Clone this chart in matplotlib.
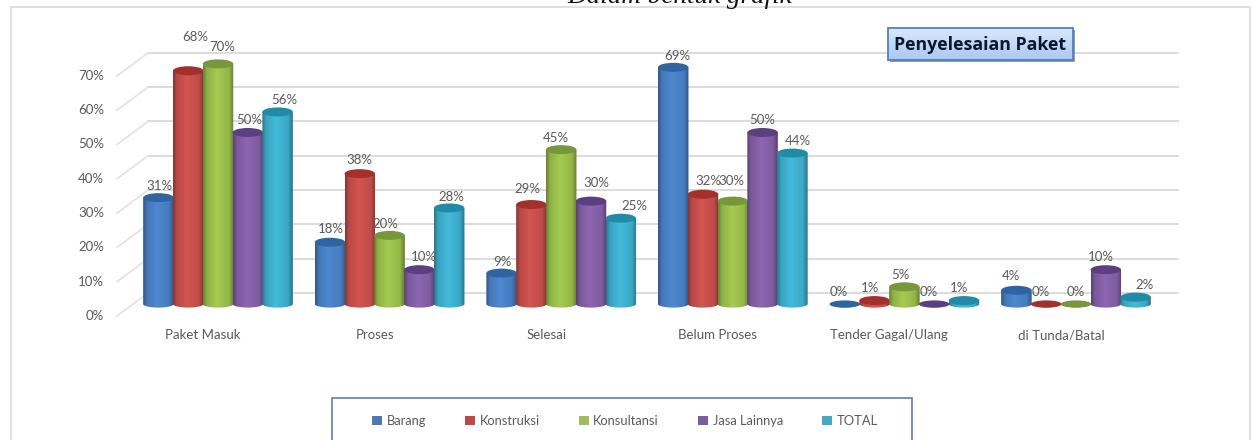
import numpy as np
import matplotlib
matplotlib.use("Agg")
import matplotlib.pyplot as plt
from matplotlib.colors import to_rgb
from matplotlib.patches import Ellipse, PathPatch, Rectangle
from matplotlib.path import Path

# data
categories = ["Paket Masuk", "Proses", "Selesai", "Belum Proses", "Tender Gagal/Ulang", "di Tunda/Batal"]
series_names = ["Barang", "Konstruksi", "Konsultansi", "Jasa Lainnya", "TOTAL"]
barang = [31, 18, 9, 69, 0, 4]
konstruksi = [68, 38, 29, 32, 1, 0]
konsultansi = [70, 20, 45, 30, 5, 0]
jasa_lainnya = [50, 10, 30, 50, 0, 10]
total = [56, 28, 25, 44, 1, 2]
y_ticks = [0, 10, 20, 30, 40, 50, 60, 70]

# styles
body_colors = ["#4a81c6", "#c8504c", "#9bc04c", "#8560a8", "#3fb0cf"]
top_colors = ["#2f659f", "#a4302e", "#76983a", "#5c3f80", "#1f8ba8"]
legend_colors = ["#4f76b5", "#c0464a", "#a3bb5f", "#77609f", "#44a8c4"]
text_color = "#595959"

# nudges of the value labels in pixels, one row per series
label_dx = [[1, 1, 1, 4, -6, -5], [7, 0, -4, 5, -5, -5], [4, -4, -5, -1, -4, 0], [1, 4, 5, 0, -5, -5], [7, 2, 14, 5, -5, 9]]
label_dy = [[-12, -13, -11, -11, -12, -14], [-34, -14, -16, -13, -13, -12], [-17, -11, -12, -20, -12, -12],
            [-12, -13, -18, -13, -12, -13], [-12, -11, -12, -12, -13, -12]]

# layout in pixels of the 1257x440 picture
W, H = 1257, 440
X0, X_STEP, BAR_W = 218, 171.6, 30.5
Y0, Y_STEP = 304, 3.43
RY = 4.5

plt.rcParams["font.family"] = ["Lato", "DejaVu Sans"]

fig = plt.figure(figsize=(W / 100, H / 100), dpi=100, facecolor="white")
ax = fig.add_axes([0, 0, 1, 1])
ax.axis("off")

width = BAR_W / X_STEP
spacing = 29.8 / X_STEP
ry = RY / Y_STEP
back = 11 / Y_STEP
front = 12 / Y_STEP
wall_l, wall_r, tick_x = (148 - X0) / X_STEP, (1178 - X0) / X_STEP, (117 - X0) / X_STEP

for t in y_ticks:
    ax.plot([wall_l, wall_r], [t + back, t + back], color="#dcdcdc", lw=1.4, zorder=1)
    ax.plot([tick_x, wall_l], [t - front, t + back], color="#e2e2e2", lw=1.2, zorder=1)
    ax.text(tick_x - 13 / X_STEP, t - front, "%d%%" % t, ha="right", va="center", color=text_color, fontsize=9.5)

shade_x = [0, 0.12, 0.45, 0.85, 1]
shade_y = [0.68, 0.92, 1.06, 0.95, 0.66]
gx = np.linspace(0, 1, 40)
shade = np.interp(gx, shade_x, shade_y)

all_series = [barang, konstruksi, konsultansi, jasa_lainnya, total]
z = 2
for g in range(len(categories)):
    for s, values in enumerate(all_series):
        v = values[g]
        cx = g + (s - 2) * spacing
        # lower half of the base, then straight up to the top
        th = np.linspace(np.pi, 2 * np.pi, 30)
        px = list(cx + width / 2 * np.cos(th)) + [cx + width / 2, cx - width / 2]
        py = list(ry * 0.8 * np.sin(th)) + [v, v]
        body = PathPatch(Path(np.column_stack([px, py]), closed=False), fc="none", ec="none", zorder=z)
        ax.add_patch(body)
        grad = np.clip(np.array(to_rgb(body_colors[s]))[None, None, :] * shade[None, :, None], 0, 1)
        im = ax.imshow(grad, extent=[cx - width / 2, cx + width / 2, -ry, v], aspect="auto", zorder=z)
        im.set_clip_path(body)
        ax.add_patch(Ellipse((cx, v), width, 2 * ry * (0.8 if v == 0 else 1), fc=top_colors[s], ec="none", zorder=z + 0.5))
        ax.annotate("%d%%" % v, (cx, v), xytext=(label_dx[s][g] * 0.72, -label_dy[s][g] * 0.72), textcoords="offset points",
                    ha="center", va="center", color=text_color, fontsize=9.5, zorder=200)
        z += 1

for g, name in enumerate(categories):
    ax.text(g - 15 / X_STEP, (Y0 - 335) / Y_STEP, name, ha="center", va="center", color=text_color, fontsize=9.5)

ax.set_xlim(-X0 / X_STEP, (W - X0) / X_STEP)
ax.set_ylim((Y0 - H) / Y_STEP, Y0 / Y_STEP)

# frame, heading, title box and legend box sit on a pixel overlay
ov = fig.add_axes([0, 0, 1, 1], zorder=5)
ov.axis("off")
ov.plot([10.5, 10.5, 1250, 1250], [H, 7.5, 7.5, H], color="#dadada", lw=1.2)
ov.text(680, 3, "Dalam bentuk grafik", ha="center", va="baseline", style="italic", fontsize=19.5,
        family=["Liberation Serif"], color="#111111", clip_on=True)

ov.add_patch(Rectangle((890, 30), 185, 32, fc="#9a9a9a", ec="none", zorder=4))
ov.add_patch(Rectangle((888, 28), 185, 32, fc="none", ec="#4f81bd", lw=1.3, zorder=6))
fill = np.linspace(0, 1, 32)[:, None, None] * (np.array(to_rgb("#a9c8f4")) - np.array(to_rgb("#dbe8fb"))) + np.array(to_rgb("#dbe8fb"))
ov.imshow(fill, extent=[888, 1073, 60, 28], aspect="auto", zorder=5)
ov.text(980.5, 45, "Penyelesaian Paket", ha="center", va="center", weight="bold", fontsize=12.8, color="#0b1730", zorder=7,
        family=["Open Sans"])

ov.add_patch(Rectangle((332, 398), 580, 60, fc="white", ec="#5b7fb0", lw=1.2, zorder=5))
handles = [Rectangle((0, 0), 1, 1, fc=c, ec="none") for c in legend_colors]
leg = ov.legend(handles, series_names, ncol=5, loc="center", bbox_to_anchor=(625 / W, 1 - 421 / H), bbox_transform=fig.transFigure,
                frameon=False, fontsize=9.3, handlelength=0.75, handleheight=0.75, handletextpad=0.35, columnspacing=3.05,
                labelcolor=text_color)
leg.set_zorder(8)

ov.set_xlim(0, W)
ov.set_ylim(H, 0)

fig.savefig("out.png", dpi=100)
